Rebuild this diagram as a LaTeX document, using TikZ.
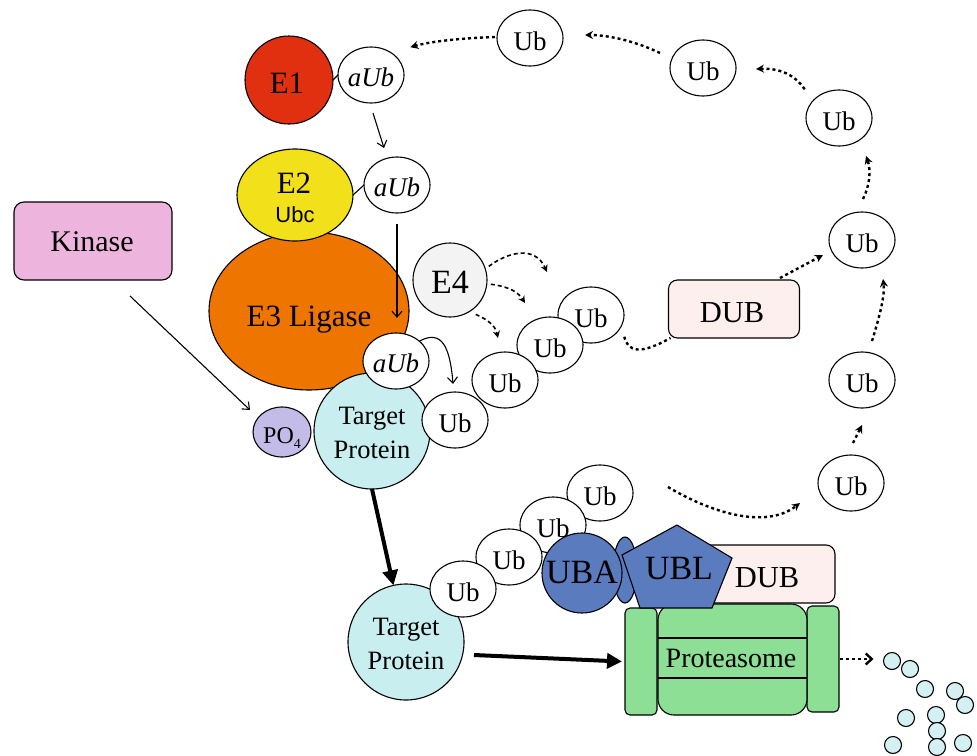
\documentclass[tikz,border=0pt]{standalone}
\usepackage{fontspec}
\setmainfont{Liberation Serif}
\setsansfont{Liberation Sans}
\usetikzlibrary{shapes.geometric,arrows.meta}
\definecolor{eonered}{HTML}{E0300F}
\definecolor{etwoyel}{HTML}{F2E01A}
\definecolor{ethreeor}{HTML}{EE7600}
\definecolor{kinpink}{HTML}{EDB5DE}
\definecolor{polav}{HTML}{C3BCE8}
\definecolor{tgtcyan}{HTML}{C8EEF0}
\definecolor{efourgray}{HTML}{F3F3F3}
\definecolor{dubpink}{HTML}{FDEFEE}
\definecolor{ublblue}{HTML}{5B7BBF}
\definecolor{protgreen}{HTML}{8CDF94}
\definecolor{pepcyan}{HTML}{D5F0F3}
\newcommand\myfs[1]{\fontsize{#1}{#1}\selectfont}
\begin{document}
\begin{tikzpicture}[x=1pt,y=-1pt,
 every node/.style={inner sep=0pt,outer sep=0pt},
 outl/.style={draw=black,line width=1.1pt},
 ubnode/.style={ellipse,outl,fill=white,minimum width=66pt,minimum height=56pt,
   font=\myfs{27},text height=24.5pt,text depth=0pt},
 aubnode/.style={ubnode,font=\myfs{27}\itshape,text height=22.5pt},
 lbl/.style={anchor=base},
 thinarr/.style={line width=1.1pt,-{Straight Barb[length=6pt,width=10pt]}},
 dotline/.style={line width=2.4pt,dash pattern=on 3pt off 3pt},
 dotarr/.style={dotline,-{Stealth[length=8pt,width=8pt]}},
 dotbarb/.style={dotline,-{Straight Barb[length=6pt,width=11pt]}},
 dashE/.style={line width=1.6pt,dash pattern=on 4pt off 3pt,-{Stealth[length=7pt,width=7pt]}},
 bigarr/.style={line width=4pt,-{Triangle[length=15pt,width=15pt]}},
 pep/.style={circle,outl,fill=pepcyan,minimum size=17pt},
]
\useasboundingbox (0,0) rectangle (977,755);

% E3, E2, E1
\node[ellipse,outl,fill=ethreeor,minimum width=200pt,minimum height=158pt] (e3) at (309,311) {};
\node[lbl,font=\myfs{31}] (e3t) at (309,326) {E3 Ligase};
\node[ellipse,outl,fill=etwoyel,minimum width=116pt,minimum height=92pt] (e2) at (295,195) {};
\node[lbl,font=\myfs{31}] (e2t) at (294,193) {E2};
\node[lbl,font=\sffamily\myfs{22}] (e2u) at (295,222) {Ubc};
\node[circle,outl,fill=eonered,minimum size=88pt] (e1) at (289,80) {};
\node[lbl,font=\myfs{31}] (e1t) at (287,93) {E1};

\node[aubnode] (a1) at (371,75) {aUb};
\node[aubnode] (a2) at (397,185) {aUb};
\draw[line width=1.1pt] (e1.east) -- (a1.west);
\draw[line width=1.1pt] (e2.east) -- (a2.west);
\draw[thinarr] ([shift={(2,10)}]a1.south) -- ([shift={(-13,-9)}]a2.north);
\coordinate (e3in) at (397,318);
\draw[thinarr] ([shift={(0,11)}]a2.south) -- (e3in);

% Kinase and PO4
\node[rectangle,rounded corners=10pt,outl,fill=kinpink,minimum width=158pt,minimum height=78pt] (kin) at (93,241) {};
\node[lbl,font=\myfs{30}] (kint) at (92,251) {Kinase};
\node[ellipse,outl,fill=polav,minimum width=58pt,minimum height=50pt] (po) at (282,432) {};
\node[lbl,font=\myfs{24}] (pot) at (282,443) {PO\raisebox{-5pt}{\myfs{14}4}};
\draw[thinarr] ([shift={(37,16)}]kin.south) -- ([shift={(-32,-22)}]po.center);

% Target protein 1
\node[circle,outl,fill=tgtcyan,minimum size=116pt] (t1) at (372,431) {};
\node[lbl,font=\myfs{26.5}] (t1a) at (372,424) {Target};
\node[lbl,font=\myfs{26.5}] (t1b) at (372,458) {Protein};
\node[aubnode] (a3) at (396,361) {aUb};
\node[ubnode] (ub0) at (455,420) {Ub};
\draw[thinarr] (a3.north east) .. controls +(22,-12) and +(-3,-38) .. ([shift={(-2,-8)}]ub0.north);

% E4
\node[circle,outl,fill=efourgray,minimum size=74pt] (e4) at (450,280) {};
\node[lbl,font=\myfs{34}] (e4t) at (450,293) {E4};

% Ub chain top
\node[ubnode] (uc) at (591,315) {Ub};
\node[ubnode] (ubb) at (550,345) {Ub};
\node[ubnode] (uba) at (505,380) {Ub};

\coordinate (e4e1) at (547,272);
\coordinate (e4e2) at (525,303);
\coordinate (e4e3) at (498,338);
\draw[dashE] ([shift={(4,-1)}]e4.20) .. controls (508,252) and (535,245) .. (e4e1);
\draw[dashE] ([shift={(4,1)}]e4.-5) .. controls (510,287) and (518,292) .. (e4e2);
\draw[dashE] ([shift={(2,6)}]e4.-50) .. controls (488,320) and (495,325) .. (e4e3);

% DUB 1
\node[rectangle,rounded corners=9pt,outl,fill=dubpink,minimum width=131pt,minimum height=58pt] (dub1) at (734,309) {};
\node[lbl,font=\myfs{30.5}] (dub1t) at (732,322) {DUB};
\draw[dotline] ([shift={(6,6)}]uc.-30) .. controls (628,352) and (640,355) .. ([shift={(2,0)}]dub1.south west);

% recycled Ub
\node[ubnode] (ut) at (530,38) {Ub};
\node[ubnode] (ur3) at (703,68) {Ub};
\node[ubnode] (ur2) at (839,118) {Ub};
\node[ubnode] (ur1) at (862,240) {Ub};
\node[ubnode] (ur4) at (862,380) {Ub};
\node[ubnode] (ur5) at (851,483) {Ub};

\draw[dotarr] ([shift={(46,-2)}]dub1.north) -- ([shift={(-6,15)}]ur1.west);
\draw[dotarr] ([shift={(2,-12)}]ur5.north) -- ([shift={(0,17)}]ur4.south);
\draw[dotarr] ([shift={(10,-11)}]ur4.north) .. controls (880,315) and (885,295) .. ([shift={(21,11)}]ur1.south);
\draw[dotarr] ([shift={(1,-13)}]ur1.north) .. controls (870,185) and (871,170) .. ([shift={(27,10)}]ur2.south);
\draw[dotarr] ([shift={(-11,-9)}]ur2.north west) .. controls (795,75) and (780,68) .. ([shift={(20,1)}]ur3.east);
\draw[dotarr] ([shift={(-10,-15)}]ur3.west) .. controls (637,42) and (610,35) .. ([shift={(22,-3)}]ut.east);
\draw[dotarr] ([shift={(-2,-1)}]ut.west) .. controls (465,38) and (432,41) .. ([shift={(16,-8)}]a1.north east);

% Target protein 2 and chain
\node[circle,outl,fill=tgtcyan,minimum size=116pt] (t2) at (406,642) {};
\node[lbl,font=\myfs{26.5}] (t2a) at (406,635) {Target};
\node[lbl,font=\myfs{26.5}] (t2b) at (406,669) {Protein};
\draw[bigarr] (t1.south) -- (t2);
\node[ubnode] (b4) at (600,493) {Ub};
\node[ubnode] (b3) at (553,525) {Ub};
\node[ubnode] (b2) at (509,557) {Ub};
\node[ubnode] (b1) at (463,589) {Ub};
\draw[dotarr] ([shift={(35,-6)}]b4.east) .. controls (710,512) and (765,530) .. ([shift={(-18,20)}]ur5.west);

% Proteasome
\node[rectangle,rounded corners=5pt,outl,fill=protgreen,minimum width=32pt,minimum height=107pt] (lc) at (641,661.5) {};
\node[rectangle,rounded corners=5pt,outl,fill=protgreen,minimum width=32pt,minimum height=106pt] (rc) at (823,659) {};
\node[rectangle,rounded corners=16pt,outl,fill=protgreen,minimum width=149pt,minimum height=111pt] (body) at (732.5,659.5) {};
\draw[line width=1.1pt] (658,638) -- (807,638);
\draw[line width=1.1pt] (658,678) -- (807,678);
\node[lbl,font=\myfs{28}] (bodyt) at (731,667) {Proteasome};
\draw[bigarr] ([shift={(10,13)}]t2.east) -- ([shift={(-3,0)}]lc.west);

% DUB 2, UBA, UBL
\node[rectangle,rounded corners=9pt,outl,fill=dubpink,minimum width=135pt,minimum height=58pt] (dub2) at (767.5,574) {};
\node[lbl,font=\myfs{30.5}] (dub2t) at (767,587) {DUB};
\node[ellipse,outl,fill=ublblue,minimum width=24pt,minimum height=66pt] (link) at (625,570) {};
\node[circle,outl,fill=ublblue,minimum size=80pt] (ubaN) at (582,573) {};
\node[lbl,font=\myfs{34}] (ubat) at (582,583) {UBA};
\draw[outl,fill=ublblue] (677,525) -- (732,558) -- (712,608) -- (640,608) -- (622,555) -- cycle;
\node[lbl,font=\myfs{34}] (ublt) at (679,579) {UBL};

% peptides
\node[pep] (p1) at (892,661) {};
\node[pep] (p2) at (910,669) {};
\node[pep] (p3) at (925,689) {};
\node[pep] (p4) at (955,691) {};
\node[pep] (p5) at (965,705) {};
\node[pep] (p6) at (906,718) {};
\node[pep] (p7) at (936,715) {};
\node[pep] (p8) at (937,731) {};
\node[pep] (p9) at (893,745) {};
\node[pep] (p10) at (937,747) {};
\node[pep] (p11) at (963,743) {};
\draw[dotbarb] ([shift={(1,0)}]rc.east) -- ([shift={(-10,-2)}]p1.west);
\end{tikzpicture}
\end{document}
